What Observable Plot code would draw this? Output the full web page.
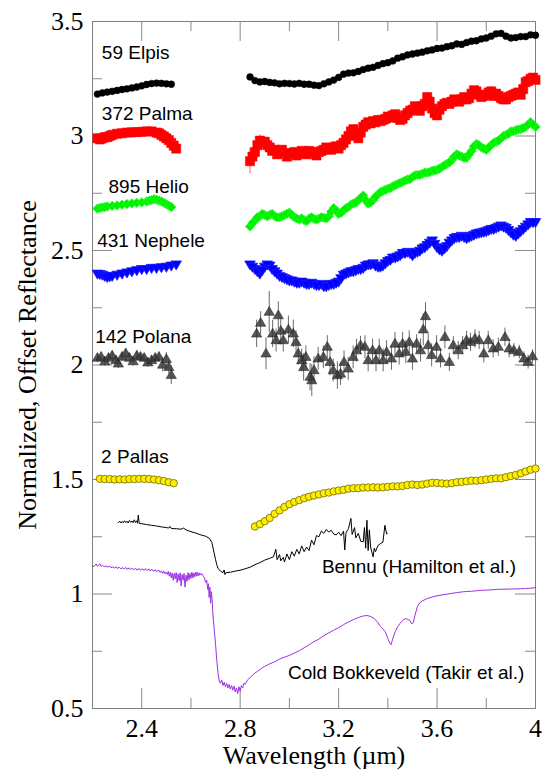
<!DOCTYPE html>
<html><head><meta charset="utf-8">
<script src="https://cdn.jsdelivr.net/npm/d3@7"></script>
<script src="https://cdn.jsdelivr.net/npm/@observablehq/plot@0.6"></script>
<style>body{margin:0;background:#fff}</style>
</head><body><div id="chart"></div>
<script>
// ---- Data (wavelength µm, normalized offset reflectance) ----
const elpisLeft = [[2.22,3.183],[2.24,3.188],[2.26,3.192],[2.28,3.195],[2.30,3.199],[2.32,3.203],[2.34,3.206],[2.36,3.210],[2.38,3.214],[2.40,3.219],[2.42,3.225],[2.44,3.229],[2.46,3.231],[2.48,3.230],[2.50,3.228],[2.52,3.226]];
const elpisRight = [[2.84,3.258],[2.86,3.242],[2.88,3.236],[2.90,3.238],[2.92,3.234],[2.94,3.232],[2.96,3.228],[2.98,3.230],[3.00,3.229],[3.02,3.227],[3.04,3.230],[3.06,3.226],[3.08,3.226],[3.10,3.222],[3.12,3.220],[3.14,3.228],[3.16,3.236],[3.18,3.244],[3.20,3.256],[3.22,3.270],[3.24,3.275],[3.26,3.276],[3.28,3.282],[3.30,3.290],[3.32,3.296],[3.34,3.300],[3.36,3.308],[3.38,3.316],[3.40,3.320],[3.42,3.328],[3.44,3.340],[3.46,3.346],[3.48,3.354],[3.50,3.358],[3.52,3.362],[3.54,3.366],[3.56,3.372],[3.58,3.376],[3.60,3.382],[3.62,3.384],[3.64,3.390],[3.66,3.394],[3.68,3.402],[3.70,3.400],[3.72,3.408],[3.74,3.414],[3.76,3.416],[3.78,3.424],[3.80,3.428],[3.82,3.436],[3.84,3.446],[3.86,3.448],[3.88,3.436],[3.90,3.428],[3.92,3.430],[3.94,3.434],[3.96,3.434],[3.98,3.442],[4.00,3.440]];

const palmaLeft = [[2.22,2.990],[2.23,2.985],[2.24,2.990],[2.25,2.995],[2.26,2.995],[2.27,3.000],[2.28,3.005],[2.30,3.010],[2.32,3.012],[2.34,3.015],[2.36,3.016],[2.38,3.017],[2.40,3.018],[2.42,3.020],[2.44,3.020],[2.46,3.015],[2.47,3.012],[2.48,3.005],[2.49,2.998],[2.50,2.990],[2.51,2.982],[2.52,2.970],[2.53,2.958],[2.54,2.945]];
const palmaRight = [[2.84,2.890,0.055],[2.86,2.930,0.03],[2.88,2.980,0.025],[2.90,2.975,0.02],[2.92,2.950,0.02],[2.94,2.940,0.02],[2.96,2.930,0.025],[2.98,2.925,0.02],[3.00,2.920,0.02],[3.02,2.930,0.02],[3.04,2.925,0.02],[3.06,2.930,0.02],[3.08,2.935,0.02],[3.10,2.925,0.02],[3.12,2.930,0.02],[3.14,2.940,0.02],[3.16,2.945,0.02],[3.18,2.950,0.02],[3.20,2.945,0.02],[3.22,2.970,0.02],[3.24,3.000,0.02],[3.26,3.030,0.02],[3.28,2.990,0.02],[3.30,3.040,0.02],[3.32,3.060,0.02],[3.34,3.065,0.02],[3.36,3.070,0.02],[3.38,3.070,0.02],[3.40,3.085,0.02],[3.42,3.090,0.02],[3.44,3.080,0.02],[3.46,3.075,0.02],[3.48,3.100,0.02],[3.50,3.115,0.02],[3.52,3.120,0.02],[3.54,3.130,0.02],[3.56,3.170,0.02],[3.58,3.120,0.02],[3.60,3.090,0.02],[3.62,3.130,0.02],[3.64,3.145,0.02],[3.66,3.150,0.02],[3.68,3.155,0.02],[3.70,3.160,0.02],[3.72,3.160,0.02],[3.74,3.185,0.02],[3.76,3.195,0.02],[3.78,3.170,0.02],[3.80,3.180,0.02],[3.82,3.195,0.02],[3.84,3.185,0.02],[3.86,3.165,0.02],[3.88,3.160,0.02],[3.90,3.175,0.02],[3.92,3.185,0.02],[3.94,3.180,0.02],[3.96,3.235,0.02],[3.98,3.250,0.02],[4.00,3.245,0.02]];
const palmaRightMid = [[2.85,2.910],[2.87,2.960],[2.89,2.970],[2.91,2.960],[2.93,2.935],[2.95,2.920],[2.97,2.940],[2.99,2.910],[3.01,2.925],[3.03,2.915],[3.05,2.935],[3.07,2.920],[3.09,2.930],[3.11,2.915],[3.13,2.935],[3.15,2.950],[3.17,2.940],[3.19,2.955],[3.21,2.960],[3.23,2.985],[3.25,3.020],[3.27,3.005],[3.29,3.015],[3.31,3.050],[3.33,3.055],[3.35,3.060],[3.37,3.065],[3.39,3.075],[3.41,3.080],[3.43,3.095],[3.45,3.070],[3.47,3.090],[3.49,3.110],[3.51,3.130],[3.53,3.110],[3.55,3.140],[3.57,3.150],[3.59,3.100],[3.61,3.115],[3.63,3.140],[3.65,3.140],[3.67,3.160],[3.69,3.150],[3.71,3.170],[3.73,3.165],[3.75,3.200],[3.77,3.180],[3.79,3.175],[3.81,3.190],[3.83,3.175],[3.85,3.175],[3.87,3.160],[3.89,3.170],[3.91,3.180],[3.93,3.190],[3.95,3.205],[3.97,3.240],[3.99,3.255]];

const helioLeft = [[2.22,2.683],[2.23,2.686],[2.24,2.688],[2.25,2.690],[2.26,2.692],[2.28,2.695],[2.30,2.697],[2.32,2.700],[2.34,2.703],[2.36,2.706],[2.38,2.708],[2.40,2.710],[2.42,2.714],[2.43,2.718],[2.44,2.720],[2.45,2.724],[2.46,2.722],[2.47,2.718],[2.48,2.714],[2.49,2.708],[2.50,2.702],[2.51,2.696],[2.52,2.690]];
const helioRight = [[2.84,2.605],[2.86,2.630],[2.88,2.650],[2.90,2.655],[2.92,2.655],[2.94,2.650],[2.96,2.645],[2.98,2.655],[3.00,2.665],[3.02,2.645],[3.04,2.635],[3.06,2.632],[3.08,2.640],[3.10,2.638],[3.12,2.640],[3.14,2.643],[3.16,2.650],[3.18,2.685],[3.20,2.660],[3.22,2.675],[3.24,2.690],[3.26,2.705],[3.28,2.720],[3.30,2.740],[3.32,2.705],[3.34,2.720],[3.36,2.745],[3.38,2.760],[3.40,2.770],[3.42,2.780],[3.44,2.790],[3.46,2.800],[3.48,2.810],[3.50,2.820],[3.52,2.830],[3.54,2.835],[3.56,2.840],[3.58,2.848],[3.60,2.852],[3.62,2.865],[3.64,2.878],[3.66,2.895],[3.68,2.920],[3.70,2.910],[3.72,2.905],[3.74,2.935],[3.76,2.965],[3.78,2.950],[3.80,2.940],[3.82,2.960],[3.84,2.975],[3.86,2.990],[3.88,3.005],[3.90,3.020],[3.92,3.025],[3.94,3.030],[3.96,3.040],[3.98,3.060],[4.00,3.040]];
const helioRightMid = [[2.85,2.620],[2.87,2.645],[2.89,2.660],[2.91,2.650],[2.93,2.660],[2.95,2.645],[2.97,2.650],[2.99,2.660],[3.01,2.655],[3.03,2.640],[3.05,2.640],[3.07,2.628],[3.09,2.645],[3.11,2.635],[3.13,2.645],[3.15,2.640],[3.17,2.670],[3.19,2.675],[3.21,2.665],[3.23,2.685],[3.25,2.700],[3.27,2.710],[3.29,2.730],[3.31,2.720],[3.33,2.710],[3.35,2.735],[3.37,2.755],[3.39,2.765],[3.41,2.772],[3.43,2.785],[3.45,2.795],[3.47,2.805],[3.49,2.812],[3.51,2.828],[3.53,2.830],[3.55,2.840],[3.57,2.842],[3.59,2.850],[3.61,2.858],[3.63,2.872],[3.65,2.885],[3.67,2.910],[3.69,2.915],[3.71,2.905],[3.73,2.920],[3.75,2.955],[3.77,2.960],[3.79,2.945],[3.81,2.950],[3.83,2.970],[3.85,2.980],[3.87,3.000],[3.89,3.010],[3.91,3.020],[3.93,3.028],[3.95,3.035],[3.97,3.050],[3.99,3.050]];

const nepheleLeft = [[2.22,2.400],[2.23,2.398],[2.24,2.395],[2.25,2.390],[2.26,2.385],[2.27,2.388],[2.28,2.390],[2.30,2.395],[2.32,2.400],[2.34,2.405],[2.36,2.410],[2.38,2.415],[2.40,2.420],[2.42,2.420],[2.44,2.425],[2.46,2.425],[2.48,2.428],[2.50,2.430],[2.52,2.435],[2.54,2.440]];
const nepheleRight = [[2.84,2.440],[2.86,2.420],[2.88,2.400],[2.90,2.430],[2.92,2.435],[2.94,2.410],[2.96,2.390],[2.98,2.380],[3.00,2.370],[3.02,2.365],[3.04,2.360],[3.06,2.360],[3.08,2.355],[3.10,2.355],[3.12,2.350],[3.14,2.345],[3.16,2.350],[3.18,2.355],[3.20,2.365],[3.22,2.395],[3.24,2.405],[3.26,2.410],[3.28,2.420],[3.30,2.425],[3.32,2.440],[3.34,2.445],[3.36,2.430],[3.38,2.435],[3.40,2.455],[3.42,2.470],[3.44,2.475],[3.46,2.490],[3.48,2.495],[3.50,2.480],[3.52,2.495],[3.54,2.510],[3.56,2.525],[3.58,2.545],[3.60,2.515],[3.62,2.500],[3.64,2.520],[3.66,2.545],[3.68,2.560],[3.70,2.565],[3.72,2.555],[3.74,2.565],[3.76,2.575],[3.78,2.580],[3.80,2.585],[3.82,2.595],[3.84,2.600],[3.86,2.610],[3.88,2.600],[3.90,2.580],[3.92,2.565],[3.94,2.585],[3.96,2.605],[3.98,2.625],[4.00,2.625]];
const nepheleRightMid = [[2.85,2.430],[2.87,2.410],[2.89,2.415],[2.91,2.440],[2.93,2.420],[2.95,2.400],[2.97,2.385],[2.99,2.375],[3.01,2.370],[3.03,2.360],[3.05,2.365],[3.07,2.355],[3.09,2.360],[3.11,2.350],[3.13,2.355],[3.15,2.345],[3.17,2.355],[3.19,2.360],[3.21,2.380],[3.23,2.400],[3.25,2.410],[3.27,2.415],[3.29,2.420],[3.31,2.435],[3.33,2.440],[3.35,2.435],[3.37,2.430],[3.39,2.445],[3.41,2.460],[3.43,2.470],[3.45,2.480],[3.47,2.490],[3.49,2.490],[3.51,2.490],[3.53,2.500],[3.55,2.515],[3.57,2.535],[3.59,2.530],[3.61,2.505],[3.63,2.510],[3.65,2.535],[3.67,2.555],[3.69,2.560],[3.71,2.560],[3.73,2.560],[3.75,2.570],[3.77,2.578],[3.79,2.583],[3.81,2.590],[3.83,2.595],[3.85,2.605],[3.87,2.605],[3.89,2.590],[3.91,2.570],[3.93,2.575],[3.95,2.595],[3.97,2.615],[3.99,2.625]];

// Polana: [wavelength, reflectance, uncertainty]
const polanaLeft = [[2.22,2.030,0.02],[2.235,2.035,0.02],[2.25,2.015,0.02],[2.265,2.030,0.02],[2.28,2.040,0.02],[2.295,2.020,0.02],[2.305,2.005,0.02],[2.32,2.035,0.02],[2.335,2.050,0.02],[2.35,2.030,0.02],[2.365,2.015,0.02],[2.38,2.040,0.02],[2.395,2.035,0.02],[2.41,2.030,0.02],[2.425,2.010,0.02],[2.44,2.020,0.02],[2.455,2.030,0.02],[2.47,2.035,0.02],[2.485,2.000,0.03],[2.50,2.025,0.03],[2.51,1.990,0.03],[2.52,1.955,0.04]];
const polanaRight = [[2.867,2.136,0.06],[2.883,2.183,0.05],[2.905,2.049,0.07],[2.918,2.231,0.09],[2.932,2.136,0.06],[2.946,2.107,0.05],[2.955,2.216,0.06],[2.965,2.148,0.06],[2.975,2.107,0.05],[2.996,2.154,0.06],[3.016,2.136,0.06],[3.027,2.099,0.05],[3.036,2.049,0.05],[3.050,2.020,0.05],[3.067,2.034,0.05],[3.058,1.990,0.06],[3.084,1.947,0.06],[3.091,1.932,0.07],[3.100,1.976,0.06],[3.117,2.027,0.05],[3.138,2.034,0.05],[3.154,2.078,0.05],[3.165,2.012,0.06],[3.178,1.976,0.05],[3.195,1.954,0.06],[3.208,1.961,0.05],[3.222,2.012,0.05],[3.239,1.983,0.05],[3.259,2.034,0.05],[3.273,2.063,0.05],[3.289,2.085,0.04],[3.307,2.078,0.05],[3.320,2.020,0.05],[3.338,2.063,0.05],[3.352,2.020,0.05],[3.365,2.063,0.05],[3.381,2.020,0.05],[3.395,2.056,0.05],[3.415,2.027,0.05],[3.429,2.092,0.05],[3.446,2.049,0.05],[3.460,2.092,0.05],[3.473,2.056,0.05],[3.487,2.099,0.05],[3.500,2.027,0.05],[3.517,2.092,0.04],[3.533,2.063,0.05],[3.544,2.154,0.07],[3.553,2.212,0.06],[3.564,2.085,0.05],[3.578,2.042,0.05],[3.598,2.078,0.05],[3.614,2.027,0.04],[3.632,2.121,0.05],[3.650,2.012,0.04],[3.666,2.085,0.04],[3.686,2.063,0.04],[3.704,2.085,0.04],[3.720,2.107,0.04],[3.736,2.099,0.04],[3.754,2.114,0.04],[3.771,2.107,0.04],[3.790,2.049,0.04],[3.808,2.107,0.04],[3.828,2.071,0.04],[3.849,2.078,0.04],[3.876,2.121,0.04],[3.893,2.071,0.04],[3.912,2.063,0.03],[3.934,2.056,0.03],[3.953,2.027,0.03],[3.970,2.012,0.03],[3.988,2.037,0.03]];

const pallasLeft = [[2.23,1.503],[2.25,1.502],[2.27,1.502],[2.29,1.500],[2.31,1.501],[2.33,1.500],[2.35,1.502],[2.37,1.502],[2.39,1.503],[2.41,1.503],[2.43,1.502],[2.45,1.500],[2.47,1.497],[2.49,1.493],[2.51,1.488],[2.53,1.484]];
const pallasRight = [[2.86,1.295],[2.88,1.305],[2.90,1.318],[2.92,1.332],[2.94,1.350],[2.96,1.365],[2.98,1.380],[3.00,1.392],[3.02,1.402],[3.04,1.410],[3.06,1.418],[3.08,1.425],[3.10,1.430],[3.12,1.435],[3.14,1.440],[3.16,1.443],[3.18,1.448],[3.20,1.452],[3.22,1.455],[3.24,1.460],[3.26,1.462],[3.28,1.462],[3.30,1.465],[3.32,1.465],[3.34,1.466],[3.36,1.465],[3.38,1.466],[3.40,1.468],[3.42,1.470],[3.44,1.470],[3.46,1.472],[3.48,1.476],[3.50,1.478],[3.52,1.476],[3.54,1.478],[3.56,1.482],[3.58,1.486],[3.60,1.485],[3.62,1.483],[3.64,1.482],[3.66,1.484],[3.68,1.488],[3.70,1.490],[3.72,1.492],[3.74,1.495],[3.76,1.495],[3.78,1.497],[3.80,1.500],[3.82,1.503],[3.84,1.505],[3.86,1.505],[3.88,1.510],[3.90,1.515],[3.92,1.520],[3.94,1.527],[3.96,1.535],[3.98,1.543],[4.00,1.548]];

const bennu = [[2.305,1.312],[2.31,1.318],[2.315,1.310],[2.32,1.317],[2.325,1.311],[2.33,1.320],[2.335,1.312],[2.34,1.318],[2.345,1.310],[2.35,1.321],[2.355,1.313],[2.36,1.319],[2.365,1.311],[2.37,1.324],[2.375,1.312],[2.38,1.320],[2.383,1.309],[2.386,1.345],[2.390,1.308],[2.40,1.307],[2.42,1.303],[2.44,1.300],[2.46,1.297],[2.48,1.293],[2.50,1.290],[2.51,1.288],[2.515,1.295],[2.52,1.286],[2.54,1.285],[2.56,1.283],[2.57,1.288],[2.58,1.280],[2.60,1.272],[2.62,1.266],[2.64,1.258],[2.66,1.252],[2.675,1.243],[2.685,1.225],[2.69,1.200],[2.70,1.150],[2.705,1.128],[2.71,1.112],[2.72,1.100],[2.73,1.093],[2.735,1.105],[2.738,1.085],[2.742,1.093],[2.76,1.095],[2.78,1.100],[2.80,1.104],[2.82,1.110],[2.84,1.117],[2.86,1.128],[2.88,1.137],[2.90,1.148],[2.92,1.156],[2.935,1.162],[2.945,1.195],[2.95,1.150],[2.96,1.172],[2.965,1.145],[2.975,1.160],[2.98,1.140],[2.99,1.175],[3.00,1.150],[3.01,1.185],[3.02,1.165],[3.03,1.195],[3.04,1.175],[3.05,1.210],[3.06,1.185],[3.07,1.205],[3.08,1.190],[3.09,1.235],[3.10,1.215],[3.11,1.255],[3.12,1.250],[3.13,1.275],[3.14,1.265],[3.15,1.282],[3.16,1.270],[3.17,1.278],[3.18,1.262],[3.19,1.258],[3.20,1.270],[3.21,1.255],[3.22,1.275],[3.225,1.192],[3.23,1.268],[3.24,1.285],[3.25,1.330],[3.255,1.260],[3.265,1.290],[3.27,1.245],[3.28,1.265],[3.29,1.230],[3.30,1.228],[3.305,1.290],[3.31,1.200],[3.315,1.322],[3.32,1.190],[3.325,1.280],[3.33,1.205],[3.34,1.162],[3.345,1.200],[3.35,1.185],[3.36,1.212],[3.37,1.220],[3.38,1.226],[3.388,1.300],[3.395,1.262],[3.398,1.265]];

const coldBokkeveld = [[2.20,1.125],[2.205,1.119],[2.21,1.127],[2.215,1.131],[2.22,1.121],[2.225,1.127],[2.23,1.132],[2.235,1.120],[2.24,1.125],[2.25,1.118],[2.255,1.124],[2.26,1.117],[2.27,1.122],[2.275,1.114],[2.28,1.119],[2.29,1.113],[2.295,1.119],[2.30,1.112],[2.31,1.117],[2.315,1.109],[2.32,1.115],[2.33,1.110],[2.335,1.116],[2.34,1.108],[2.35,1.114],[2.355,1.106],[2.36,1.112],[2.37,1.106],[2.375,1.113],[2.38,1.105],[2.39,1.111],[2.395,1.103],[2.40,1.110],[2.41,1.104],[2.415,1.111],[2.42,1.103],[2.43,1.109],[2.435,1.100],[2.44,1.107],[2.45,1.100],[2.455,1.106],[2.46,1.097],[2.47,1.104],[2.475,1.094],[2.48,1.101],[2.485,1.090],[2.49,1.100],[2.495,1.088],[2.50,1.096],[2.504,1.085],[2.508,1.099],[2.512,1.078],[2.516,1.095],[2.52,1.070],[2.524,1.092],[2.528,1.060],[2.532,1.090],[2.536,1.066],[2.54,1.094],[2.544,1.050],[2.548,1.088],[2.552,1.058],[2.556,1.092],[2.56,1.035],[2.564,1.085],[2.568,1.060],[2.572,1.090],[2.576,1.030],[2.58,1.082],[2.584,1.055],[2.588,1.093],[2.592,1.062],[2.596,1.090],[2.60,1.068],[2.604,1.095],[2.608,1.070],[2.612,1.092],[2.616,1.075],[2.62,1.096],[2.624,1.078],[2.628,1.094],[2.632,1.080],[2.636,1.092],[2.64,1.084],[2.645,1.088],[2.65,1.078],[2.655,1.070],[2.66,1.050],[2.664,1.060],[2.668,1.020],[2.671,1.045],[2.674,0.985],[2.677,1.030],[2.68,0.960],[2.683,1.010],[2.686,0.975],[2.69,0.900],[2.695,0.840],[2.70,0.780],[2.705,0.710],[2.71,0.655],[2.715,0.620],[2.72,0.610],[2.725,0.625],[2.73,0.600],[2.735,0.615],[2.74,0.595],[2.745,0.610],[2.75,0.590],[2.755,0.605],[2.76,0.585],[2.765,0.600],[2.77,0.580],[2.775,0.598],[2.78,0.572],[2.785,0.590],[2.79,0.565],[2.795,0.595],[2.80,0.575],[2.805,0.600],[2.81,0.590],[2.815,0.610],[2.82,0.605],[2.83,0.625],[2.84,0.635],[2.85,0.645],[2.86,0.655],[2.87,0.662],[2.88,0.670],[2.89,0.678],[2.90,0.684],[2.92,0.695],[2.94,0.704],[2.96,0.716],[2.98,0.724],[3.00,0.732],[3.02,0.742],[3.04,0.752],[3.06,0.765],[3.08,0.778],[3.10,0.792],[3.12,0.803],[3.14,0.818],[3.16,0.830],[3.18,0.842],[3.20,0.853],[3.22,0.866],[3.24,0.878],[3.26,0.888],[3.28,0.897],[3.30,0.904],[3.315,0.906],[3.33,0.902],[3.345,0.893],[3.36,0.875],[3.37,0.858],[3.38,0.848],[3.39,0.835],[3.40,0.805],[3.408,0.785],[3.413,0.778],[3.42,0.805],[3.43,0.835],[3.44,0.858],[3.45,0.872],[3.46,0.885],[3.47,0.892],[3.48,0.890],[3.49,0.884],[3.497,0.870],[3.503,0.875],[3.51,0.905],[3.52,0.945],[3.53,0.962],[3.54,0.970],[3.56,0.980],[3.58,0.987],[3.60,0.992],[3.62,0.996],[3.64,0.999],[3.66,1.003],[3.68,1.006],[3.70,1.009],[3.72,1.011],[3.74,1.012],[3.76,1.014],[3.78,1.016],[3.80,1.017],[3.82,1.018],[3.84,1.020],[3.86,1.021],[3.88,1.021],[3.90,1.022],[3.92,1.022],[3.94,1.023],[3.96,1.024],[3.98,1.025],[4.00,1.028]];

// Labels placed in data space
const labelNames = ["59 Elpis","372 Palma","895 Helio","431 Nephele","142 Polana","2 Pallas","Bennu (Hamilton et al.)","Cold Bokkeveld (Takir et al.)"];
const labelX = [2.238,2.238,2.265,2.219,2.211,2.235,3.132,2.994];
const labelY = [3.338,3.068,2.750,2.517,2.097,1.573,1.093,0.630];

// Ticks
const xMajor = [2.4, 2.8, 3.2, 3.6];
const xMinor = [2.6, 3.0, 3.4, 3.8];
const xLabels = [2.4, 2.8, 3.2, 3.6, 4];
const yMajor = [1, 1.5, 2, 2.5, 3];
const yMinor = [0.75, 1.25, 1.75, 2.25, 2.75, 3.25];
const yLabels = [0.5, 1, 1.5, 2, 2.5, 3, 3.5];

// ---- Layout ----
const W = 544, H = 770;
const mL = 92, mR = 9, mT = 21, mB = 62;
const frameH = H - mT - mB, frameW = W - mL - mR;
const majorLen = 20, minorLen = 10;
const tickColor = "#8a8a8a";

const triDown = {draw(ctx, size) { const r = Math.sqrt(size / Math.PI); ctx.moveTo(-1.2*r, -0.75*r); ctx.lineTo(1.2*r, -0.75*r); ctx.lineTo(0, 1.3*r); ctx.closePath(); }};
const triUp = {draw(ctx, size) { const r = Math.sqrt(size / Math.PI); ctx.moveTo(-1.2*r, 0.75*r); ctx.lineTo(1.2*r, 0.75*r); ctx.lineTo(0, -1.3*r); ctx.closePath(); }};

const X = d => d[0], Y = d => d[1];
const labels = labelNames.map((t, i) => ({t, x: labelX[i], y: labelY[i]}));
const serif = "Liberation Serif, Times New Roman, Times, serif";
const sans = "Liberation Sans, Arial, Helvetica, sans-serif";

const chart = Plot.plot({
  width: W, height: H,
  marginLeft: mL, marginRight: mR, marginTop: mT, marginBottom: mB,
  style: {fontFamily: serif, fontSize: "26px", background: "#fff", color: "#000"},
  x: {domain: [2.2, 4.0]},
  y: {domain: [0.5, 3.5]},
  marks: [
    // axis tick labels
    Plot.axisX(xLabels, {anchor: "bottom", tickSize: 0, tickPadding: 10, fontSize: 26, fontFamily: serif, fontVariant: "normal", tickFormat: d => String(d), label: null}),
    Plot.axisY(yLabels, {anchor: "left", tickSize: 0, tickPadding: 9, fontSize: 26, fontFamily: serif, fontVariant: "normal", tickFormat: d => String(d), label: null}),
    // inward ticks (bottom, top, left, right)
    Plot.ruleX(xMajor, {x: d => d, insetTop: frameH - majorLen, stroke: tickColor}),
    Plot.ruleX(xMinor, {x: d => d, insetTop: frameH - minorLen, stroke: tickColor}),
    Plot.ruleX(xMajor, {x: d => d, insetBottom: frameH - majorLen, stroke: tickColor}),
    Plot.ruleX(xMinor, {x: d => d, insetBottom: frameH - minorLen, stroke: tickColor}),
    Plot.ruleY(yMajor, {y: d => d, insetRight: frameW - majorLen, stroke: tickColor}),
    Plot.ruleY(yMinor, {y: d => d, insetRight: frameW - minorLen, stroke: tickColor}),
    Plot.ruleY(yMajor, {y: d => d, insetLeft: frameW - majorLen, stroke: tickColor}),
    Plot.ruleY(yMinor, {y: d => d, insetLeft: frameW - minorLen, stroke: tickColor}),
    Plot.frame({stroke: "#808080", strokeWidth: 1}),

    // lab spectra
    Plot.line(coldBokkeveld, {x: X, y: Y, stroke: "#9b30e6", strokeWidth: 1}),
    Plot.line(bennu, {x: X, y: Y, stroke: "#000", strokeWidth: 1}),

    // 2 Pallas
    Plot.dot(pallasLeft.concat(pallasRight), {x: X, y: Y, r: 3.7, fill: "#ffee00", stroke: "#6e6a00", strokeWidth: 0.8}),

    // 142 Polana (error bars + triangles)
    Plot.ruleX(polanaLeft.concat(polanaRight), {x: X, y1: d => d[1] - d[2], y2: d => d[1] + d[2], stroke: "#6a6a6a", strokeWidth: 1}),
    Plot.dot(polanaLeft.concat(polanaRight), {x: X, y: Y, r: 4.3, symbol: triUp, fill: "#3a3a3a", fillOpacity: 0.85, stroke: "#1e1e1e", strokeWidth: 0.5}),

    // 431 Nephele
    Plot.dot(nepheleLeft.concat(nepheleRight, nepheleRightMid), {x: X, y: Y, r: 4.4, symbol: triDown, fill: "#0000ff", stroke: "#1a1aff", strokeWidth: 0.8}),

    // 895 Helio
    Plot.dot(helioLeft.concat(helioRight, helioRightMid), {x: X, y: Y, r: 4.2, symbol: "diamond2", fill: "#00f000", stroke: "#22ff22", strokeWidth: 0.8}),

    // 372 Palma (error bars + squares)
    Plot.ruleX(palmaRight, {x: X, y1: d => d[1] - d[2], y2: d => d[1] + d[2], stroke: "#ff5a5a", strokeWidth: 1}),
    Plot.dot(palmaLeft.concat(palmaRight, palmaRightMid), {x: X, y: Y, r: 5.2, symbol: "square", fill: "#ff0000", stroke: "#ff0000", strokeWidth: 0.5}),

    // 59 Elpis
    Plot.dot(elpisLeft.concat(elpisRight), {x: X, y: Y, r: 3.4, fill: "#000", stroke: "#000", strokeWidth: 0.5}),

    // series labels
    Plot.text(labels, {x: "x", y: "y", text: "t", textAnchor: "start", lineAnchor: "bottom", fontFamily: sans, fontSize: 19, fill: "#000"}),

    // axis titles
    Plot.text(["Wavelength (\u00b5m)"], {frameAnchor: "bottom", dy: 55, text: d => d, textAnchor: "middle", lineAnchor: "bottom", fontFamily: serif, fontSize: 26, fill: "#000"}),
    Plot.text(["Normalized, Offset Reflectance"], {frameAnchor: "left", dx: -57, rotate: -90, text: d => d, textAnchor: "middle", lineAnchor: "bottom", fontFamily: serif, fontSize: 26, fill: "#000"})
  ]
});
document.getElementById("chart").appendChild(chart);
</script>
</body></html>
